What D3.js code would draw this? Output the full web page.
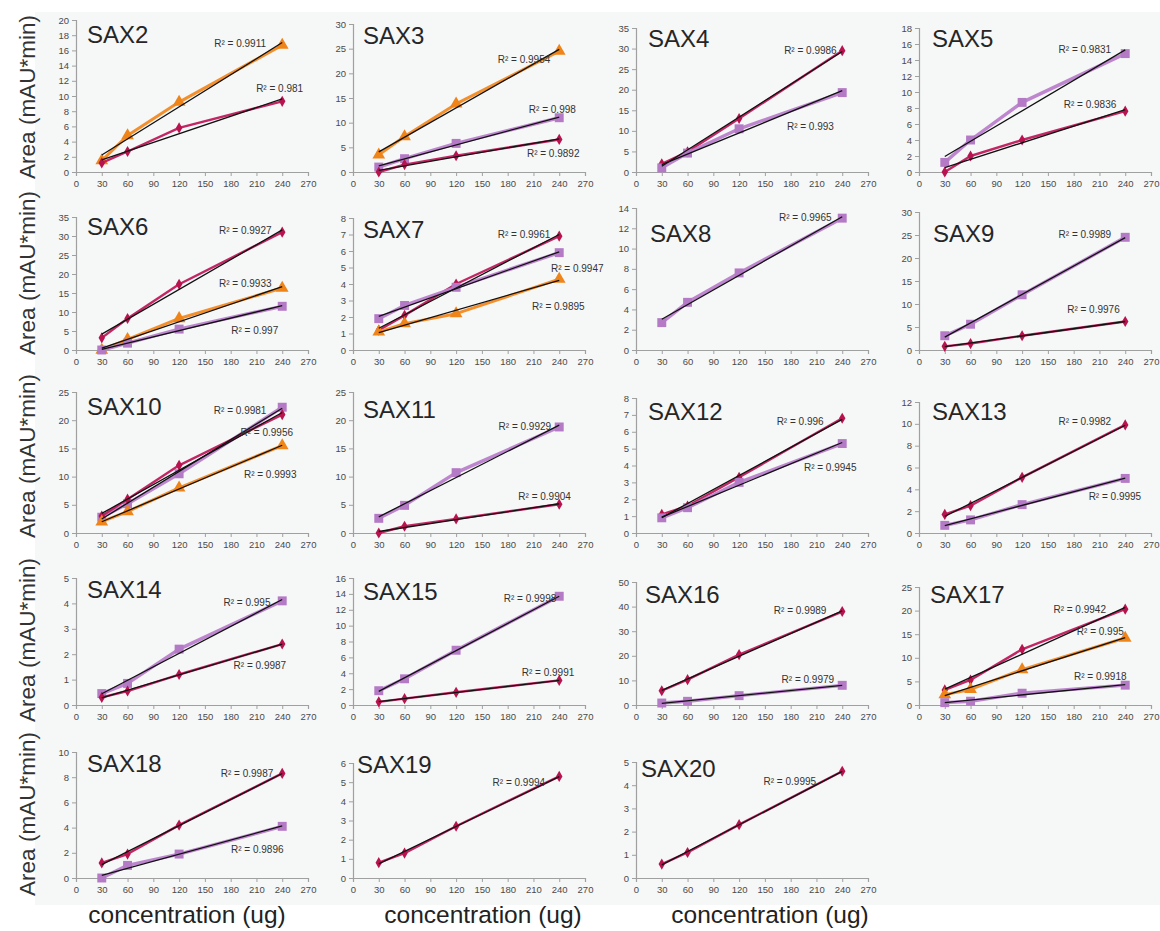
<!DOCTYPE html>
<html>
<head>
<meta charset="utf-8">
<script src="https://cdn.jsdelivr.net/npm/d3@7/dist/d3.min.js"></script>
<style>
  body { margin: 0; background: #ffffff; }
  svg { display: block; font-family: "Liberation Sans", Arial, sans-serif; }
</style>
</head>
<body>
<svg id="chart" width="1160" height="931"></svg>
<script>
// ---- data -------------------------------------------------------------
const doses = [30, 60, 120, 240];
const xTickValues = [0, 30, 60, 90, 120, 150, 180, 210, 240, 270];
const panelNames = ["SAX2", "SAX3", "SAX4", "SAX5", "SAX6", "SAX7", "SAX8", "SAX9",
  "SAX10", "SAX11", "SAX12", "SAX13", "SAX14", "SAX15", "SAX16", "SAX17",
  "SAX18", "SAX19", "SAX20"];
const yMaxes = [20, 30, 35, 18, 35, 8, 14, 30, 25, 25, 8, 12, 5, 16, 50, 25, 10, 6, 5];
const ySteps = [2, 5, 5, 2, 5, 1, 2, 5, 5, 5, 1, 2, 1, 2, 10, 5, 2, 1, 1];

// peak areas (mAU*min) at each dose
const sax2Triangle = [1.5, 4.8, 9.2, 16.7];
const sax2Diamond = [1.2, 2.7, 5.8, 9.3];
const sax3Triangle = [3.5, 7.2, 13.8, 24.5];
const sax3Square = [1.0, 2.7, 5.8, 11.0];
const sax3Diamond = [0.0, 1.5, 3.3, 6.6];
const sax4Diamond = [2.0, 4.9, 13.0, 29.5];
const sax4Square = [1.0, 4.6, 10.5, 19.3];
const sax5Square = [1.2, 4.0, 8.7, 14.8];
const sax5Diamond = [0.0, 2.0, 4.0, 7.6];
const sax6Diamond = [3.2, 8.3, 17.3, 31.0];
const sax6Triangle = [0.0, 2.8, 8.3, 16.3];
const sax6Square = [0.0, 1.8, 5.5, 11.5];
const sax7Diamond = [1.2, 2.1, 4.0, 6.9];
const sax7Square = [1.9, 2.7, 3.8, 5.9];
const sax7Triangle = [1.1, 1.6, 2.2, 4.3];
const sax8Square = [2.7, 4.7, 7.6, 13.0];
const sax9Square = [3.1, 5.6, 12.0, 24.5];
const sax9Diamond = [0.8, 1.4, 3.1, 6.2];
const sax10Square = [2.8, 5.2, 10.5, 22.3];
const sax10Diamond = [3.0, 6.0, 12.0, 21.0];
const sax10Triangle = [2.0, 3.8, 8.0, 15.5];
const sax11Square = [2.6, 4.9, 10.7, 18.8];
const sax11Diamond = [0.0, 1.2, 2.5, 5.1];
const sax12Diamond = [1.1, 1.6, 3.3, 6.8];
const sax12Square = [0.9, 1.5, 3.0, 5.3];
const sax13Diamond = [1.7, 2.5, 5.1, 9.9];
const sax13Square = [0.7, 1.2, 2.6, 5.0];
const sax14Square = [0.45, 0.85, 2.2, 4.1];
const sax14Diamond = [0.3, 0.55, 1.2, 2.4];
const sax15Square = [1.8, 3.3, 6.9, 13.7];
const sax15Diamond = [0.4, 0.8, 1.6, 3.1];
const sax16Diamond = [5.8, 10.3, 20.5, 38.0];
const sax16Square = [0.8, 1.5, 3.8, 8.0];
const sax17Diamond = [3.2, 5.3, 11.8, 20.3];
const sax17Triangle = [2.2, 3.3, 7.5, 14.2];
const sax17Square = [0.5, 0.8, 2.5, 4.2];
const sax18Diamond = [1.2, 1.9, 4.2, 8.3];
const sax18Square = [0.0, 1.0, 1.9, 4.1];
const sax19Diamond = [0.8, 1.3, 2.7, 5.3];
const sax20Diamond = [0.6, 1.1, 2.3, 4.6];

// series per panel: marker kind, values, R² of the linear trendline
const panelSeries = [
  [["triangle", sax2Triangle, "0.9911"], ["diamond", sax2Diamond, "0.981"]],
  [["triangle", sax3Triangle, "0.9954"], ["square", sax3Square, "0.998"], ["diamond", sax3Diamond, "0.9892"]],
  [["diamond", sax4Diamond, "0.9986"], ["square", sax4Square, "0.993"]],
  [["square", sax5Square, "0.9831"], ["diamond", sax5Diamond, "0.9836"]],
  [["diamond", sax6Diamond, "0.9927"], ["triangle", sax6Triangle, "0.9933"], ["square", sax6Square, "0.997"]],
  [["diamond", sax7Diamond, "0.9961"], ["square", sax7Square, "0.9947"], ["triangle", sax7Triangle, "0.9895"]],
  [["square", sax8Square, "0.9965"]],
  [["square", sax9Square, "0.9989"], ["diamond", sax9Diamond, "0.9976"]],
  [["square", sax10Square, "0.9981"], ["diamond", sax10Diamond, "0.9956"], ["triangle", sax10Triangle, "0.9993"]],
  [["square", sax11Square, "0.9929"], ["diamond", sax11Diamond, "0.9904"]],
  [["diamond", sax12Diamond, "0.996"], ["square", sax12Square, "0.9945"]],
  [["diamond", sax13Diamond, "0.9982"], ["square", sax13Square, "0.9995"]],
  [["square", sax14Square, "0.995"], ["diamond", sax14Diamond, "0.9987"]],
  [["square", sax15Square, "0.9998"], ["diamond", sax15Diamond, "0.9991"]],
  [["diamond", sax16Diamond, "0.9989"], ["square", sax16Square, "0.9979"]],
  [["diamond", sax17Diamond, "0.9942"], ["triangle", sax17Triangle, "0.995"], ["square", sax17Square, "0.9918"]],
  [["diamond", sax18Diamond, "0.9987"], ["square", sax18Square, "0.9896"]],
  [["diamond", sax19Diamond, "0.9994"]],
  [["diamond", sax20Diamond, "0.9995"]]
];

// ---- layout -----------------------------------------------------------
const colX0 = [76, 353, 636, 919];           // pixel of x = 0 in each column
const colWidth = 232;                         // 0..270 span
const rowZero = [172, 350, 533, 705, 878];    // pixel of y = 0 in each row
const panelTop = [20, 24, 28, 28, 217, 218, 208, 212, 392, 392, 398, 402,
  578, 578, 582, 587, 752, 763, 762];
const titleBaseline = [43, 44, 47, 47, 235, 238, 242, 242, 415, 418, 420, 420,
  598, 600, 603, 603, 772, 773, 777];
const titleDx = [11, 10, 12, 13, 11, 10, 14, 14, 11, 10, 12, 13, 11, 10, 9, 11, 11, 4, 5];
// R² label anchors in data units [x centre, y baseline], one per series
const labelAnchors = [
  [[191, 16.4], [237, 10.5]],
  [[199, 22.1], [232, 12.0], [233, 3.0]],
  [[203, 28.7], [203, 10.2]],
  [[193, 14.9], [199, 8.0]],
  [[197, 30.5], [197, 16.6], [208, 4.2]],
  [[199, 6.8], [261, 4.7], [239, 2.4]],
  [[197, 12.7]],
  [[193, 24.3], [203, 8.0]],
  [[191, 21.1], [222, 17.2], [226, 9.8]],
  [[200, 18.3], [223, 5.9]],
  [[191, 6.4], [226, 3.7]],
  [[193, 9.9], [228, 3.0]],
  [[199, 3.9], [214, 1.4]],
  [[206, 13.0], [227, 3.6]],
  [[191, 37], [200, 9]],
  [[187, 19.5], [211, 14.8], [211, 5.3]],
  [[199, 8.0], [211, 2.0]],
  [[193, 4.8]],
  [[179, 4.0]]
];

const seriesColor = { diamond: "#c01a5c", square: "#b97fcb", triangle: "#f28a22" };
const seriesWidth = { diamond: 2.4, square: 3.4, triangle: 3.0 };
const markerShape = {
  diamond: d3.symbol().type(d3.symbolDiamond).size(36),
  square: d3.symbol().type(d3.symbolSquare).size(80),
  triangle: d3.symbol().type(d3.symbolTriangle).size(70)
};
const markerColor = { diamond: "#b8124f", square: "#b47ac6", triangle: "#ef8419" };

const svg = d3.select("#chart");

// light backdrop behind the grid of plots
svg.append("rect").attr("x", 35).attr("y", 12).attr("width", 1125).attr("height", 893)
  .attr("fill", "#f6f7f7");

// row titles
const rowTitleY = [97, 273, 456, 640, 814];
rowTitleY.forEach(cy => {
  svg.append("text")
    .attr("transform", `translate(27,${cy}) rotate(-90)`)
    .attr("text-anchor", "middle")
    .attr("dominant-baseline", "central")
    .attr("font-size", 22.5)
    .attr("fill", "#333")
    .text("Area (mAU*min)");
});

// column titles under the last row
[187, 483, 770].forEach(cx => {
  svg.append("text")
    .attr("x", cx).attr("y", 923)
    .attr("text-anchor", "middle")
    .attr("font-size", 24.5)
    .attr("fill", "#222")
    .text("concentration (ug)");
});

// linear least-squares fit
function linearFit(xs, ys) {
  const n = xs.length;
  const mx = d3.mean(xs), my = d3.mean(ys);
  let sxy = 0, sxx = 0;
  for (let i = 0; i < n; i++) { sxy += (xs[i] - mx) * (ys[i] - my); sxx += (xs[i] - mx) ** 2; }
  const slope = sxy / sxx;
  return x => my + slope * (x - mx);
}

panelNames.forEach((name, i) => {
  const col = i % 4, row = Math.floor(i / 4);
  const x = d3.scaleLinear().domain([0, 270]).range([colX0[col], colX0[col] + colWidth]);
  const y = d3.scaleLinear().domain([0, yMaxes[i]]).range([rowZero[row], panelTop[i]]);
  const g = svg.append("g").attr("class", "panel");

  const yTicks = d3.range(0, yMaxes[i] + ySteps[i] / 2, ySteps[i]);

  const yAxis = g.append("g")
    .attr("transform", `translate(${colX0[col]},0)`)
    .call(d3.axisLeft(y).tickValues(yTicks).tickSize(4).tickPadding(3).tickFormat(d3.format("d")));
  const xAxis = g.append("g")
    .attr("transform", `translate(0,${rowZero[row]})`)
    .call(d3.axisBottom(x).tickValues(xTickValues).tickSize(4).tickPadding(4).tickFormat(d3.format("d")));
  [yAxis, xAxis].forEach(a => {
    a.select(".domain").attr("stroke", "#a0a0a0").attr("stroke-width", 1.2);
    a.selectAll(".tick line").attr("stroke", "#a0a0a0");
    a.selectAll(".tick text").attr("fill", "#4a4a4a").attr("font-size", 9.5)
      .attr("font-family", "'Liberation Sans', Arial, sans-serif");
  });

  g.append("text")
    .attr("x", colX0[col] + titleDx[i]).attr("y", titleBaseline[i])
    .attr("font-size", 24).attr("fill", "#262626")
    .text(name);

  const line = d3.line().x((d, k) => x(doses[k])).y(d => y(d));

  panelSeries[i].forEach(([kind, values]) => {
    g.append("path").datum(values)
      .attr("d", line).attr("fill", "none")
      .attr("stroke", seriesColor[kind]).attr("stroke-width", seriesWidth[kind])
      .attr("stroke-linejoin", "round").attr("opacity", 0.95);
    g.selectAll(null).data(values).enter().append("path")
      .attr("d", markerShape[kind])
      .attr("transform", (d, k) => `translate(${x(doses[k])},${y(d)})`)
      .attr("fill", markerColor[kind]);
  });

  // trendlines over the data
  panelSeries[i].forEach(([kind, values]) => {
    const fit = linearFit(doses, values);
    g.append("line")
      .attr("x1", x(30)).attr("y1", y(fit(30)))
      .attr("x2", x(240)).attr("y2", y(fit(240)))
      .attr("stroke", "#111").attr("stroke-width", 1.3);
  });

  panelSeries[i].forEach(([kind, values, r2], s) => {
    const [ax, ay] = labelAnchors[i][s];
    g.append("text")
      .attr("x", x(ax)).attr("y", y(ay))
      .attr("text-anchor", "middle")
      .attr("font-size", 10).attr("fill", "#333")
      .text(`R\u00B2 = ${r2}`);
  });
});
</script>
</body>
</html>
